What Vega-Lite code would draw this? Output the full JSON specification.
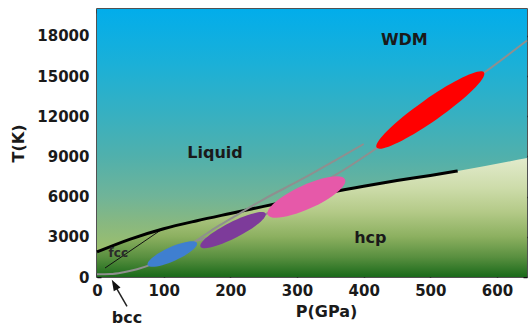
{
  "$schema": "https://vega.github.io/schema/vega-lite/v6.json",
  "width": 430,
  "height": 268,
  "autosize": {"type": "none"},
  "padding": {"left": 97, "top": 9, "right": 1, "bottom": 49},
  "background": "white",
  "config": {
    "view": {"stroke": "#1a1a1a", "strokeWidth": 1.5},
    "axis": {
      "labelFont": "DejaVu Sans", "labelFontWeight": "bold", "labelFontSize": 15, "labelColor": "#1a1a1a",
      "titleFont": "DejaVu Sans", "titleFontWeight": "bold", "titleFontSize": 16, "titleColor": "#1a1a1a",
      "tickColor": "#111111", "tickWidth": 1.5, "tickSize": -4, "domain": false, "grid": false, "labelFlush": false
    }
  },
  "datasets": {
    "bg": [{"P0": 0, "P1": 645, "T0": 0, "T1": 20000}],
    "melt": [
      {"P": 0, "T": 1870}, {"P": 50, "T": 2830}, {"P": 100, "T": 3600}, {"P": 150, "T": 4200},
      {"P": 200, "T": 4740}, {"P": 250, "T": 5270}, {"P": 300, "T": 5800}, {"P": 350, "T": 6320},
      {"P": 400, "T": 6780}, {"P": 450, "T": 7200}, {"P": 500, "T": 7580}, {"P": 541, "T": 7910}
    ],
    "hcp": [
      {"P": 0, "T": 1870}, {"P": 50, "T": 2830}, {"P": 100, "T": 3600}, {"P": 150, "T": 4200},
      {"P": 200, "T": 4740}, {"P": 250, "T": 5270}, {"P": 300, "T": 5800}, {"P": 350, "T": 6320},
      {"P": 400, "T": 6780}, {"P": 450, "T": 7200}, {"P": 500, "T": 7580}, {"P": 541, "T": 7910},
      {"P": 645, "T": 8880}
    ],
    "fcc": [{"P": 12, "T": 670}, {"P": 98, "T": 3580}],
    "hug": [
      {"curve": "A", "P": 0, "T": 200}, {"curve": "A", "P": 20, "T": 220}, {"curve": "A", "P": 40, "T": 360},
      {"curve": "A", "P": 60, "T": 580}, {"curve": "A", "P": 80, "T": 900}, {"curve": "A", "P": 100, "T": 1350},
      {"curve": "A", "P": 125, "T": 2000}, {"curve": "A", "P": 150, "T": 2750}, {"curve": "A", "P": 177, "T": 3650},
      {"curve": "A", "P": 200, "T": 4330}, {"curve": "A", "P": 250, "T": 5800}, {"curve": "A", "P": 305, "T": 7240},
      {"curve": "A", "P": 358, "T": 8730}, {"curve": "A", "P": 400, "T": 9925},
      {"curve": "B", "P": 150, "T": 2700}, {"curve": "B", "P": 204, "T": 3550}, {"curve": "B", "P": 257, "T": 4780},
      {"curve": "B", "P": 314, "T": 6400}, {"curve": "B", "P": 370, "T": 7985}, {"curve": "B", "P": 422, "T": 9700},
      {"curve": "B", "P": 500, "T": 12460}, {"curve": "B", "P": 580, "T": 15224}, {"curve": "B", "P": 645, "T": 17650}
    ],
    "ell": [
      {"name": "blue", "P": 113, "T": 1716},
      {"name": "purple", "P": 204, "T": 3500},
      {"name": "pink", "P": 314, "T": 5970},
      {"name": "red", "P": 500, "T": 12460}
    ],
    "labels": [
      {"label": "WDM", "P": 461, "T": 17690},
      {"label": "Liquid", "P": 177, "T": 9250},
      {"label": "hcp", "P": 410, "T": 2900},
      {"label": "bcc", "P": 45, "T": -3060}
    ],
    "small": [{"label": "fcc", "P": 32, "T": 1790}],
    "arrow": [{"P": 25.5, "T": -520}, {"P": 45, "T": -2200}],
    "head": [{"P": 26.2, "T": -560}]
  },
  "resolve": {"axis": {"x": "independent", "y": "independent"}},
  "layer": [
    {
      "data": {"name": "bg"},
      "mark": {"type": "rect", "fill": {"gradient": "linear", "x1": 0, "y1": 0, "x2": 0, "y2": 1, "stops": [
        {"offset": 0, "color": "#02adeb"}, {"offset": 0.2, "color": "#1ab0d8"}, {"offset": 0.4, "color": "#38b0c0"},
        {"offset": 0.55, "color": "#50b0ac"}, {"offset": 0.7, "color": "#70b498"}, {"offset": 0.8, "color": "#88b880"},
        {"offset": 0.9, "color": "#9cbf6c"}, {"offset": 1, "color": "#a8c060"}]}},
      "encoding": {
        "x": {"field": "P0", "type": "quantitative", "scale": {"domain": [0, 645], "nice": false, "zero": false},
          "axis": {"orient": "bottom", "values": [0, 100, 200, 300, 400, 500, 600], "title": "P(GPa)", "labelPadding": 10, "titlePadding": 5, "titleX": 229}},
        "x2": {"field": "P1"},
        "y": {"field": "T0", "type": "quantitative", "scale": {"domain": [0, 20000], "nice": false, "zero": false},
          "axis": {"orient": "left", "values": [0, 3000, 6000, 9000, 12000, 15000, 18000], "format": "d", "title": "T(K)", "labelPadding": 12, "titlePadding": 10}},
        "y2": {"field": "T1"}
      }
    },
    {
      "data": {"name": "hcp"},
      "mark": {"type": "area", "interpolate": "monotone", "fill": {"gradient": "linear", "x1": 0, "y1": 0, "x2": 0, "y2": 1, "stops": [
        {"offset": 0, "color": "#e2ebcc"}, {"offset": 0.25, "color": "#cddcaa"}, {"offset": 0.45, "color": "#b4ca88"},
        {"offset": 0.66, "color": "#8cb060"}, {"offset": 0.83, "color": "#5a9040"}, {"offset": 1, "color": "#1a6a1a"}]}},
      "encoding": {
        "x": {"field": "P", "type": "quantitative", "scale": {"domain": [0, 645], "nice": false, "zero": false}, "axis": null},
        "y": {"field": "T", "type": "quantitative", "scale": {"domain": [0, 20000], "nice": false, "zero": false}, "axis": null}
      }
    },
    {
      "data": {"name": "fcc"},
      "mark": {"type": "line", "color": "#111111", "strokeWidth": 1},
      "encoding": {
        "x": {"field": "P", "type": "quantitative", "scale": {"domain": [0, 645], "nice": false, "zero": false}, "axis": null},
        "y": {"field": "T", "type": "quantitative", "scale": {"domain": [0, 20000], "nice": false, "zero": false}, "axis": null}
      }
    },
    {
      "data": {"name": "melt"},
      "mark": {"type": "line", "color": "#000000", "strokeWidth": 3, "interpolate": "monotone"},
      "encoding": {
        "x": {"field": "P", "type": "quantitative", "scale": {"domain": [0, 645], "nice": false, "zero": false}, "axis": null},
        "y": {"field": "T", "type": "quantitative", "scale": {"domain": [0, 20000], "nice": false, "zero": false}, "axis": null}
      }
    },
    {
      "data": {"name": "hug"},
      "mark": {"type": "line", "color": "#8f8f8f", "strokeWidth": 2, "interpolate": "monotone"},
      "encoding": {
        "x": {"field": "P", "type": "quantitative", "scale": {"domain": [0, 645], "nice": false, "zero": false}, "axis": null},
        "y": {"field": "T", "type": "quantitative", "scale": {"domain": [0, 20000], "nice": false, "zero": false}, "axis": null},
        "detail": {"field": "curve"}
      }
    },
    {
      "data": {"name": "ell"},
      "transform": [{"filter": "datum.name === 'blue'"}],
      "mark": {"type": "point", "filled": true, "opacity": 1, "color": "#3f7fd0", "size": 2916, "angle": -24,
        "shape": "M -1 0 A 1 0.26 0 1 1 1 0 A 1 0.26 0 1 1 -1 0 Z"},
      "encoding": {
        "x": {"field": "P", "type": "quantitative", "scale": {"domain": [0, 645], "nice": false, "zero": false}, "axis": null},
        "y": {"field": "T", "type": "quantitative", "scale": {"domain": [0, 20000], "nice": false, "zero": false}, "axis": null}
      }
    },
    {
      "data": {"name": "ell"},
      "transform": [{"filter": "datum.name === 'purple'"}],
      "mark": {"type": "point", "filled": true, "opacity": 1, "color": "#7d3b9a", "size": 5329, "angle": -27,
        "shape": "M -1 0 A 1 0.22 0 1 1 1 0 A 1 0.22 0 1 1 -1 0 Z"},
      "encoding": {
        "x": {"field": "P", "type": "quantitative", "scale": {"domain": [0, 645], "nice": false, "zero": false}, "axis": null},
        "y": {"field": "T", "type": "quantitative", "scale": {"domain": [0, 20000], "nice": false, "zero": false}, "axis": null}
      }
    },
    {
      "data": {"name": "ell"},
      "transform": [{"filter": "datum.name === 'pink'"}],
      "mark": {"type": "point", "filled": true, "opacity": 1, "color": "#e659a9", "size": 7225, "angle": -24.5,
        "shape": "M -1 0 A 1 0.28 0 1 1 1 0 A 1 0.28 0 1 1 -1 0 Z"},
      "encoding": {
        "x": {"field": "P", "type": "quantitative", "scale": {"domain": [0, 645], "nice": false, "zero": false}, "axis": null},
        "y": {"field": "T", "type": "quantitative", "scale": {"domain": [0, 20000], "nice": false, "zero": false}, "axis": null}
      }
    },
    {
      "data": {"name": "ell"},
      "transform": [{"filter": "datum.name === 'red'"}],
      "mark": {"type": "point", "filled": true, "opacity": 1, "color": "#ff0000", "size": 17161, "angle": -35,
        "shape": "M -1 0 A 1 0.17 0 1 1 1 0 A 1 0.17 0 1 1 -1 0 Z"},
      "encoding": {
        "x": {"field": "P", "type": "quantitative", "scale": {"domain": [0, 645], "nice": false, "zero": false}, "axis": null},
        "y": {"field": "T", "type": "quantitative", "scale": {"domain": [0, 20000], "nice": false, "zero": false}, "axis": null}
      }
    },
    {
      "data": {"name": "small"},
      "mark": {"type": "text", "font": "DejaVu Sans", "fontWeight": "bold", "fontSize": 12, "color": "#2a2a2a"},
      "encoding": {
        "x": {"field": "P", "type": "quantitative", "scale": {"domain": [0, 645], "nice": false, "zero": false}, "axis": null},
        "y": {"field": "T", "type": "quantitative", "scale": {"domain": [0, 20000], "nice": false, "zero": false}, "axis": null},
        "text": {"field": "label"}
      }
    },
    {
      "data": {"name": "arrow"},
      "mark": {"type": "line", "color": "#222222", "strokeWidth": 1.5},
      "encoding": {
        "x": {"field": "P", "type": "quantitative", "scale": {"domain": [0, 645], "nice": false, "zero": false}, "axis": null},
        "y": {"field": "T", "type": "quantitative", "scale": {"domain": [0, 20000], "nice": false, "zero": false}, "axis": null}
      }
    },
    {
      "data": {"name": "head"},
      "mark": {"type": "point", "filled": true, "opacity": 1, "color": "#111111", "size": 121, "angle": -29,
        "shape": "M 0 -1 L 0.7 1 L -0.7 1 Z"},
      "encoding": {
        "x": {"field": "P", "type": "quantitative", "scale": {"domain": [0, 645], "nice": false, "zero": false}, "axis": null},
        "y": {"field": "T", "type": "quantitative", "scale": {"domain": [0, 20000], "nice": false, "zero": false}, "axis": null}
      }
    },
    {
      "data": {"name": "labels"},
      "mark": {"type": "text", "font": "DejaVu Sans", "fontWeight": "bold", "fontSize": 16, "color": "#1a1a1a"},
      "encoding": {
        "x": {"field": "P", "type": "quantitative", "scale": {"domain": [0, 645], "nice": false, "zero": false},
          "axis": {"orient": "top", "values": [0, 100, 200, 300, 400, 500, 600], "labels": false, "title": null}},
        "y": {"field": "T", "type": "quantitative", "scale": {"domain": [0, 20000], "nice": false, "zero": false},
          "axis": {"orient": "right", "values": [0, 3000, 6000, 9000, 12000, 15000, 18000], "labels": false, "title": null}},
        "text": {"field": "label"}
      }
    }
  ]
}
